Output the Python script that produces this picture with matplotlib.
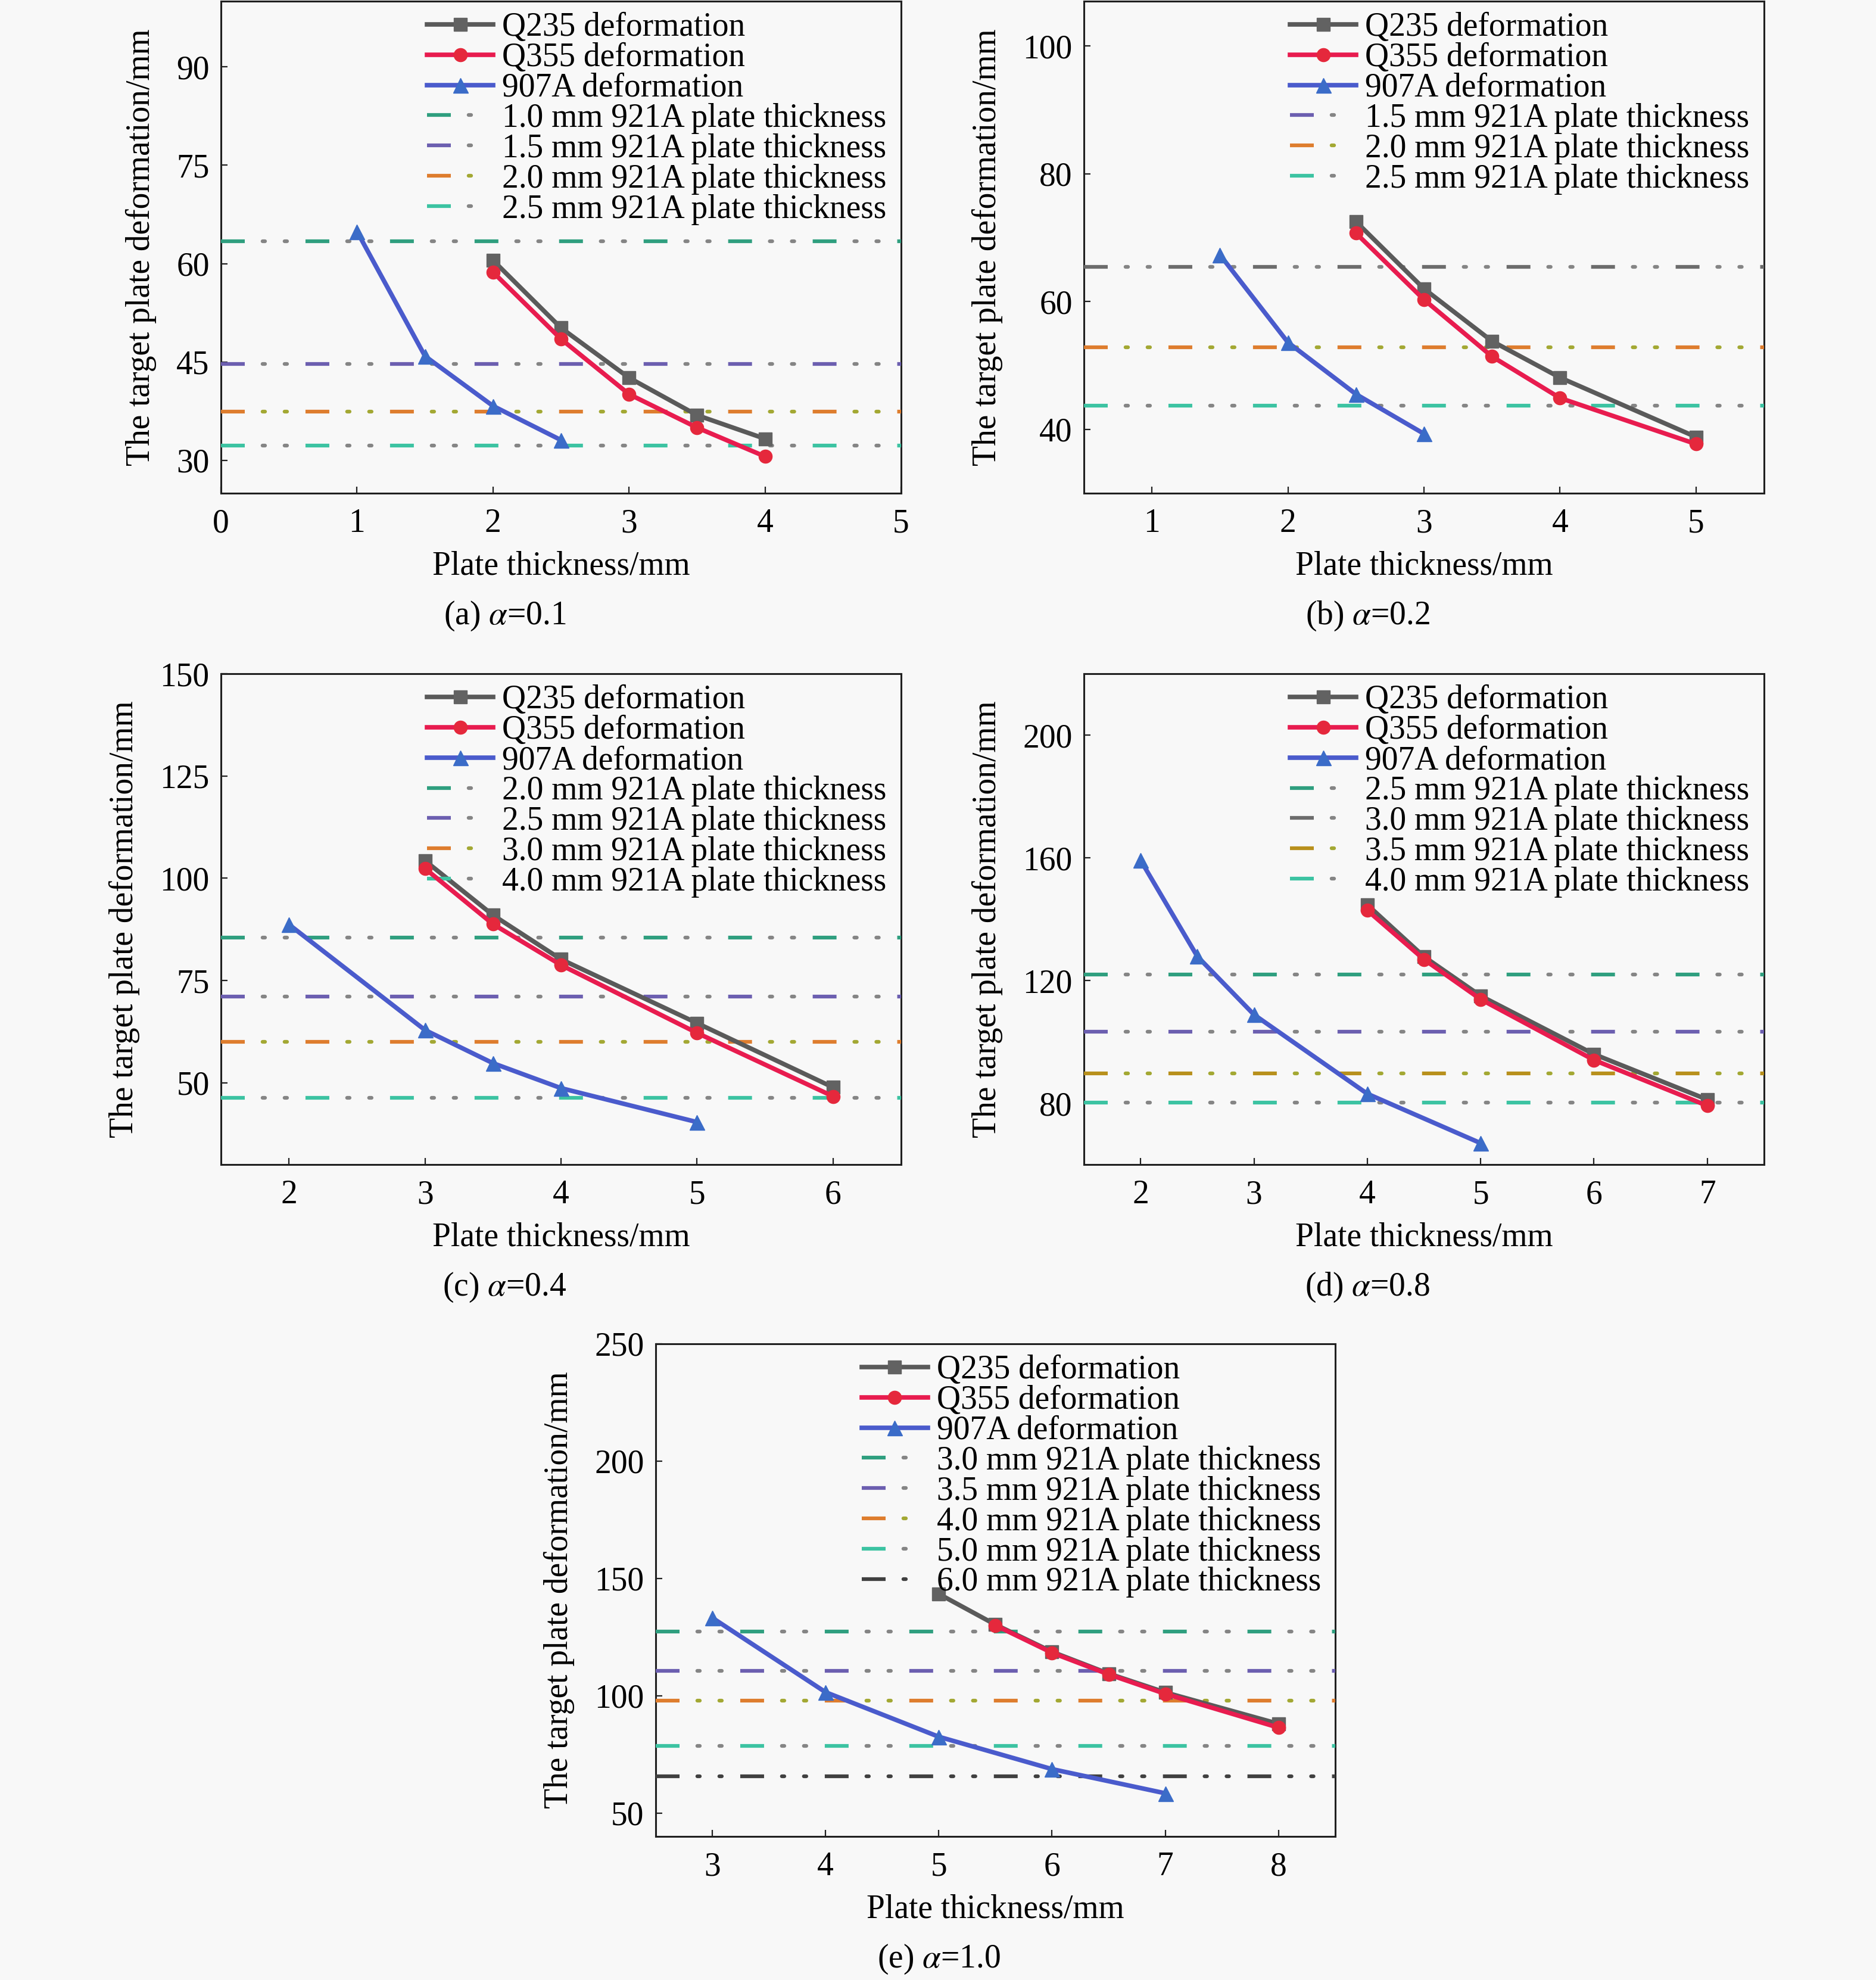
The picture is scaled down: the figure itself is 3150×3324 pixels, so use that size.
import matplotlib
matplotlib.use('Agg')
import matplotlib.pyplot as plt
from matplotlib.lines import Line2D
from matplotlib.legend_handler import HandlerTuple

plt.rcParams.update({
    'font.family': 'serif',
    'font.serif': ['Liberation Serif', 'Times New Roman', 'DejaVu Serif'],
    'mathtext.fontset': 'stix',
    'lines.scale_dashes': False,
    'font.size': 40,
})

# ---------------- data ----------------
A_Q235_X = [2, 2.5, 3, 3.5, 4]
A_Q235_Y = [60.5, 50.2, 42.6, 36.9, 33.3]
A_Q355_X = [2, 2.5, 3, 3.5, 4]
A_Q355_Y = [58.7, 48.5, 40.1, 35.0, 30.6]
A_907A_X = [1, 1.5, 2, 2.5]
A_907A_Y = [64.9, 45.9, 38.3, 33.1]
A_REF_T = ['1.0', '1.5', '2.0', '2.5']
A_REF_Y = [63.4, 44.7, 37.4, 32.3]

B_Q235_X = [2.5, 3, 3.5, 4, 5]
B_Q235_Y = [72.5, 62.0, 53.8, 48.1, 38.8]
B_Q355_X = [2.5, 3, 3.5, 4, 5]
B_Q355_Y = [70.7, 60.3, 51.4, 44.9, 37.7]
B_907A_X = [1.5, 2, 2.5, 3]
B_907A_Y = [67.3, 53.6, 45.5, 39.3]
B_REF_T = ['1.5', '2.0', '2.5']
B_REF_Y = [65.4, 52.8, 43.7]

C_Q235_X = [3, 3.5, 4, 5, 6]
C_Q235_Y = [104.3, 91.0, 80.2, 64.6, 48.9]
C_Q355_X = [3, 3.5, 4, 5, 6]
C_Q355_Y = [102.4, 88.8, 78.8, 62.2, 46.7]
C_907A_X = [2, 3, 3.5, 4, 5]
C_907A_Y = [88.7, 62.9, 54.8, 48.7, 40.4]
C_REF_T = ['2.0', '2.5', '3.0', '4.0']
C_REF_Y = [85.5, 71.1, 60.0, 46.3]

D_Q235_X = [4, 4.5, 5, 6, 7]
D_Q235_Y = [144.7, 127.8, 115.0, 96.0, 81.2]
D_Q355_X = [4, 4.5, 5, 6, 7]
D_Q355_Y = [142.9, 126.9, 113.9, 94.1, 79.2]
D_907A_X = [2, 2.5, 3, 4, 5]
D_907A_Y = [159.2, 127.9, 108.9, 83.1, 67.0]
D_REF_T = ['2.5', '3.0', '3.5', '4.0']
D_REF_Y = [122.0, 103.3, 89.7, 80.2]

E_Q235_X = [5, 5.5, 6, 6.5, 7, 8]
E_Q235_Y = [143.4, 130.3, 118.7, 109.4, 101.4, 88.0]
E_Q355_X = [5.5, 6, 6.5, 7, 8]
E_Q355_Y = [130.0, 118.3, 109.1, 100.8, 86.4]
E_907A_X = [3, 4, 5, 6, 7]
E_907A_Y = [133.2, 101.5, 82.5, 68.7, 58.4]
E_REF_T = ['3.0', '3.5', '4.0', '5.0', '6.0']
E_REF_Y = [127.3, 110.6, 97.9, 78.6, 65.7]

ALPHAS = ['0.1', '0.2', '0.4', '0.8', '1.0']
LETTERS = ['a', 'b', 'c', 'd', 'e']

# ---------------- styles ----------------
BG = '#f8f8f8'
TEAL = '#2f9f7f'
PURPLE = '#6c5fb0'
ORANGE = '#de7d2e'
CYAN = '#3cc3a2'
GRAY = '#6c6c6c'
DARK = '#404040'
OLIVE = '#a3a833'
DOTGRAY = '#858585'

# (plot colour, legend colour, dot colour) per reference line
A_REF_C = [(TEAL, TEAL, DOTGRAY), (PURPLE, PURPLE, DOTGRAY), (ORANGE, ORANGE, OLIVE), (CYAN, CYAN, DOTGRAY)]
B_REF_C = [(GRAY, PURPLE, DOTGRAY), (ORANGE, ORANGE, OLIVE), (CYAN, CYAN, DOTGRAY)]
C_REF_C = [(TEAL, TEAL, DOTGRAY), (PURPLE, PURPLE, DOTGRAY), (ORANGE, ORANGE, OLIVE), (CYAN, CYAN, DOTGRAY)]
D_REF_C = [(TEAL, TEAL, DOTGRAY), (PURPLE, GRAY, DOTGRAY), ('#b8901c', '#b8901c', OLIVE), (CYAN, CYAN, DOTGRAY)]
E_REF_C = [(TEAL, TEAL, DOTGRAY), (PURPLE, PURPLE, DOTGRAY), (ORANGE, ORANGE, OLIVE), (CYAN, CYAN, DOTGRAY), (DARK, DARK, DARK)]

DASH_LS = (0, (28.8, 73.4))
DOT_LS = (51.9, (3.0, 23.6, 3.0, 72.6))
DOT_LEG_LS = (51.9, (3.0, 99.2))
REF_LW = 4.5

PANELS = [
    dict(q235=(A_Q235_X, A_Q235_Y), q355=(A_Q355_X, A_Q355_Y), s907=(A_907A_X, A_907A_Y),
         ref_t=A_REF_T, ref_y=A_REF_Y, ref_c=A_REF_C, xlim=(0, 5), ylim=(25, 100),
         xt=[0, 1, 2, 3, 4, 5], yt=[30, 45, 60, 75, 90],
         pos=[0.1178, 0.7509, 0.3625, 0.2485]),
    dict(q235=(B_Q235_X, B_Q235_Y), q355=(B_Q355_X, B_Q355_Y), s907=(B_907A_X, B_907A_Y),
         ref_t=B_REF_T, ref_y=B_REF_Y, ref_c=B_REF_C, xlim=(0.5, 5.5), ylim=(30, 107),
         xt=[1, 2, 3, 4, 5], yt=[40, 60, 80, 100],
         pos=[0.5778, 0.7509, 0.3625, 0.2485]),
    dict(q235=(C_Q235_X, C_Q235_Y), q355=(C_Q355_X, C_Q355_Y), s907=(C_907A_X, C_907A_Y),
         ref_t=C_REF_T, ref_y=C_REF_Y, ref_c=C_REF_C, xlim=(1.5, 6.5), ylim=(30, 150),
         xt=[2, 3, 4, 5, 6], yt=[50, 75, 100, 125, 150],
         pos=[0.1178, 0.4118, 0.3625, 0.2479]),
    dict(q235=(D_Q235_X, D_Q235_Y), q355=(D_Q355_X, D_Q355_Y), s907=(D_907A_X, D_907A_Y),
         ref_t=D_REF_T, ref_y=D_REF_Y, ref_c=D_REF_C, xlim=(1.5, 7.5), ylim=(60, 220),
         xt=[2, 3, 4, 5, 6, 7], yt=[80, 120, 160, 200],
         pos=[0.5778, 0.4118, 0.3625, 0.2479]),
    dict(q235=(E_Q235_X, E_Q235_Y), q355=(E_Q355_X, E_Q355_Y), s907=(E_907A_X, E_907A_Y),
         ref_t=E_REF_T, ref_y=E_REF_Y, ref_c=E_REF_C, xlim=(2.5, 8.5), ylim=(40, 250),
         xt=[3, 4, 5, 6, 7, 8], yt=[50, 100, 150, 200, 250],
         pos=[0.3495, 0.0725, 0.3622, 0.2488]),
]

fig = plt.figure(figsize=(31.5, 33.24), dpi=100, facecolor=BG)

for i, p in enumerate(PANELS):
    ax = fig.add_axes(p['pos'])
    ax.set_facecolor(BG)
    handles, labels = [], []

    ln, = ax.plot(*p['q235'], color='#5a5a5a', lw=5.5, marker='s', ms=16,
                  mfc='#626262', mec='#626262', zorder=5)
    handles.append(ln); labels.append('Q235 deformation')
    ln, = ax.plot(*p['q355'], color='#e81c4f', lw=5.5, marker='o', ms=16,
                  mfc='#e5283c', mec='#e5283c', zorder=6)
    handles.append(ln); labels.append('Q355 deformation')
    ln, = ax.plot(*p['s907'], color='#4a5bcc', lw=5.5, marker='^', ms=18,
                  mfc='#3b6cc8', mec='#3b6cc8', zorder=7)
    handles.append(ln); labels.append('907A deformation')

    for t, y, (pc, lc, dc) in zip(p['ref_t'], p['ref_y'], p['ref_c']):
        ax.axhline(y, color=pc, lw=REF_LW, ls=DASH_LS, dash_capstyle='butt', zorder=3)
        ax.axhline(y, color=dc, lw=REF_LW, ls=DOT_LS, dash_capstyle='round', zorder=3)
        h1 = Line2D([], [], color=lc, lw=REF_LW, ls=DASH_LS, dash_capstyle='butt')
        h2 = Line2D([], [], color=dc, lw=REF_LW, ls=DOT_LEG_LS, dash_capstyle='round')
        handles.append((h1, h2)); labels.append(f'{t} mm 921A plate thickness')

    ax.set_xlim(*p['xlim']); ax.set_ylim(*p['ylim'])
    ax.set_xticks(p['xt']); ax.set_yticks(p['yt'])
    ax.tick_params(direction='in', length=8, width=1.6, labelsize=40, color='#202020')
    ax.tick_params(axis='x', pad=18)
    ax.tick_params(axis='y', pad=14)
    for s in ax.spines.values():
        s.set_linewidth(2.2); s.set_color('#202020')
    ax.set_xlabel('Plate thickness/mm', fontsize=40, labelpad=14)
    ax.set_ylabel('The target plate deformation/mm', fontsize=40, labelpad=24)

    ax.legend(handles, labels, loc='upper left', bbox_to_anchor=(0.303, 0.978),
              frameon=False, borderpad=0, borderaxespad=0, handlelength=2.0,
              handletextpad=0.27, labelspacing=-0.02, fontsize=40, numpoints=1,
              handler_map={tuple: HandlerTuple(ndivide=1)})

    ax.text(0.417, -0.25, f'({LETTERS[i]}) $\\alpha$=' + ALPHAS[i], transform=ax.transAxes,
            ha='center', va='center', fontsize=40)

fig.savefig('out.png', dpi=100, facecolor=BG)
